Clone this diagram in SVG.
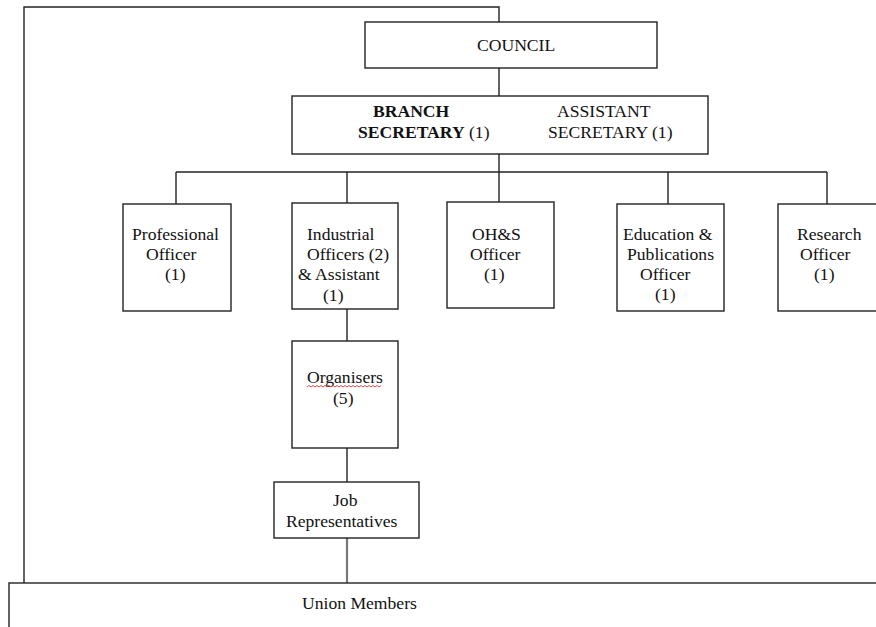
<svg xmlns="http://www.w3.org/2000/svg" width="876" height="627" viewBox="0 0 876 627">
<style>
.box{fill:#fff;stroke:#222;stroke-width:1.4}
.ln{fill:none;stroke:#222;stroke-width:1.4}
text{font-family:"Liberation Serif","Times New Roman",serif;font-size:17.6px;fill:#111}
.b{font-weight:bold}
</style>
<rect width="876" height="627" fill="#fff"/>
<g id="connectors">
<polyline class="ln" points="24,583 24,7 499,7 499,22"/>
<line class="ln" x1="499" y1="68" x2="499" y2="96"/>
<line class="ln" x1="499" y1="154" x2="499" y2="172"/>
<line class="ln" x1="176" y1="172" x2="827" y2="172"/>
<line class="ln" x1="176" y1="172" x2="176" y2="204"/>
<line class="ln" x1="347" y1="172" x2="347" y2="203"/>
<line class="ln" x1="499" y1="172" x2="499" y2="202"/>
<line class="ln" x1="668" y1="172" x2="668" y2="204"/>
<line class="ln" x1="827" y1="172" x2="827" y2="204"/>
<line class="ln" x1="347" y1="309" x2="347" y2="341"/>
<line class="ln" x1="347" y1="448" x2="347" y2="482"/>
<line x1="347" y1="538" x2="347" y2="583" stroke="#777" stroke-width="2.2"/>
</g>
<g id="council">
<rect class="box" x="365" y="22" width="292" height="46"/>
<text x="477" y="51">COUNCIL</text>
</g>
<g id="branch">
<rect class="box" x="292" y="96" width="416" height="58"/>
<text class="b" x="373" y="117">BRANCH</text>
<text x="358" y="138"><tspan class="b">SECRETARY</tspan> (1)</text>
<text x="557" y="117">ASSISTANT</text>
<text x="548" y="138">SECRETARY (1)</text>
</g>
<g id="professional">
<rect class="box" x="123" y="204" width="108" height="107"/>
<text x="132" y="240">Professional</text>
<text x="146" y="260">Officer</text>
<text x="165" y="280">(1)</text>
</g>
<g id="industrial">
<rect class="box" x="292" y="203" width="106" height="106"/>
<text x="307" y="240">Industrial</text>
<text x="307" y="260">Officers (2)</text>
<text x="298" y="280">&amp; Assistant</text>
<text x="323" y="301">(1)</text>
</g>
<g id="ohs">
<rect class="box" x="447" y="202" width="107" height="106"/>
<text x="472" y="240">OH&amp;S</text>
<text x="470" y="260">Officer</text>
<text x="484" y="280">(1)</text>
</g>
<g id="education">
<rect class="box" x="617" y="204" width="107" height="107"/>
<text x="623" y="240">Education &amp;</text>
<text x="627" y="260">Publications</text>
<text x="640" y="280">Officer</text>
<text x="655" y="300">(1)</text>
</g>
<g id="research">
<rect class="box" x="778" y="204" width="110" height="107"/>
<text x="797" y="240">Research</text>
<text x="800" y="260">Officer</text>
<text x="814" y="280">(1)</text>
</g>
<g id="organisers">
<rect class="box" x="292" y="341" width="106" height="107"/>
<text x="307" y="383">Organisers</text>
<path d="M307,387 l2,-1.5 l2,1.5 l2,-1.5 l2,1.5 l2,-1.5 l2,1.5 l2,-1.5 l2,1.5 l2,-1.5 l2,1.5 l2,-1.5 l2,1.5 l2,-1.5 l2,1.5 l2,-1.5 l2,1.5 l2,-1.5 l2,1.5 l2,-1.5 l2,1.5 l2,-1.5 l2,1.5 l2,-1.5 l2,1.5 l2,-1.5 l2,1.5 l2,-1.5 l2,1.5 l2,-1.5 l2,1.5 l2,-1.5 l2,1.5 l2,-1.5 l2,1.5 l2,-1.5 l2,1.5 l2,-1.5" fill="none" stroke="#d33" stroke-width="0.9"/>
<text x="333" y="404">(5)</text>
</g>
<g id="job-reps">
<rect class="box" x="274" y="482" width="145" height="56"/>
<text x="333" y="506">Job</text>
<text x="286" y="527">Representatives</text>
</g>
<g id="union-members">
<rect class="box" x="9" y="583" width="880" height="60"/>
<text x="302" y="609">Union Members</text>
</g>
</svg>
